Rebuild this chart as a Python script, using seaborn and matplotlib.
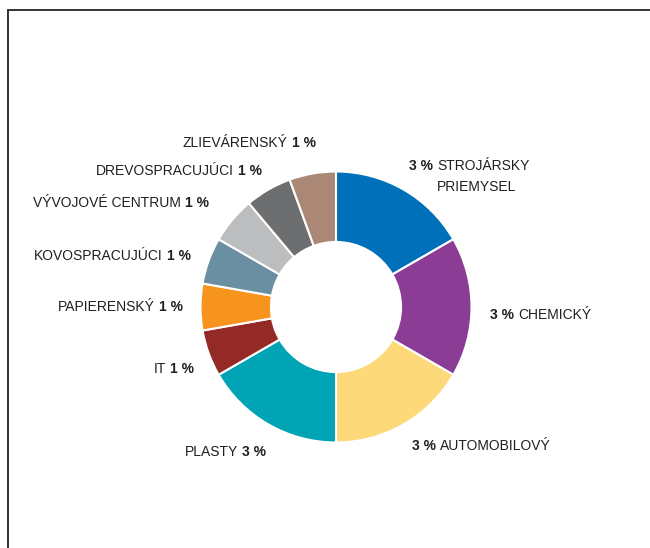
import matplotlib
matplotlib.use("Agg")
import matplotlib.pyplot as plt
import seaborn as sns
from matplotlib.lines import Line2D
from matplotlib.offsetbox import TextArea, HPacker, VPacker, AnnotationBbox

# data
sectors = ["STROJÁRSKY\nPRIEMYSEL", "CHEMICKÝ", "AUTOMOBILOVÝ", "PLASTY", "IT",
           "PAPIERENSKÝ", "KOVOSPRACUJÚCI", "VÝVOJOVÉ CENTRUM", "DREVOSPRACUJÚCI",
           "ZLIEVÁRENSKÝ"]
shares = [3, 3, 3, 3, 1, 1, 1, 1, 1, 1]
share_labels = ["3 %", "3 %", "3 %", "3 %", "1 %", "1 %", "1 %", "1 %", "1 %", "1 %"]
sector_colors = ["#0070BB", "#8B3D96", "#FED97A", "#00A4B4", "#952926",
                 "#F6941E", "#6A8FA3", "#BBBDBF", "#6C6E70", "#AB8875"]

# label layout (image pixels, from top-left), side the percent sits on
label_pos = [(409, 159), (490, 315), (412, 446), (266, 452), (194, 369),
             (183, 307), (191, 256), (209, 203), (262, 171), (316, 143)]
label_side = ["right", "right", "right", "left", "left",
              "left", "left", "left", "left", "left"]

W, H = 650, 548
CX, CY = 336, 307
R = 135.5

sns.set_theme(style="white")
plt.rcParams["font.family"] = ["Liberation Sans", "DejaVu Sans"]
text_color = "#231F20"
fs = 10

fig = plt.figure(figsize=(W / 100, H / 100), dpi=100)
ax = fig.add_axes([0, 0, 1, 1])
ax.pie(shares, colors=sns.color_palette(sector_colors), startangle=90,
       counterclock=False, radius=1,
       wedgeprops=dict(width=0.52, edgecolor="white", linewidth=1.5))
ax.set_xlim(-CX / R, (W - CX) / R)
ax.set_ylim(-(H - CY) / R, CY / R)
ax.axis("off")

for name, pct, (px, py), side in zip(sectors, share_labels, label_pos, label_side):
    bold = TextArea(pct, textprops=dict(fontweight="bold", fontsize=fs, color=text_color))
    lines = name.split("\n")
    if len(lines) > 1:
        norm = VPacker(children=[TextArea(l, textprops=dict(fontsize=fs, color=text_color))
                                 for l in lines], pad=0, sep=5, align="left")
    else:
        norm = TextArea(name, textprops=dict(fontsize=fs, color=text_color))
    if side == "right":
        kids, align_x = [bold, norm], 0
    else:
        kids, align_x = [norm, bold], 1
    multiline = len(lines) > 1
    box = HPacker(children=kids, pad=0, sep=3, align="top" if multiline else "baseline")
    ab = AnnotationBbox(box, (px, H - py), xycoords="figure pixels",
                        box_alignment=(align_x, 1 if multiline else 0.5),
                        frameon=False, pad=0)
    ax.add_artist(ab)

# frame lines (top and left)
x0 = 8 / W
y0 = 1 - 10 / H
fig.add_artist(Line2D([x0, 1], [y0, y0], transform=fig.transFigure, color="#333333", lw=1.4))
fig.add_artist(Line2D([x0, x0], [0, y0], transform=fig.transFigure, color="#333333", lw=1.4))

fig.savefig("out.png", dpi=100)
